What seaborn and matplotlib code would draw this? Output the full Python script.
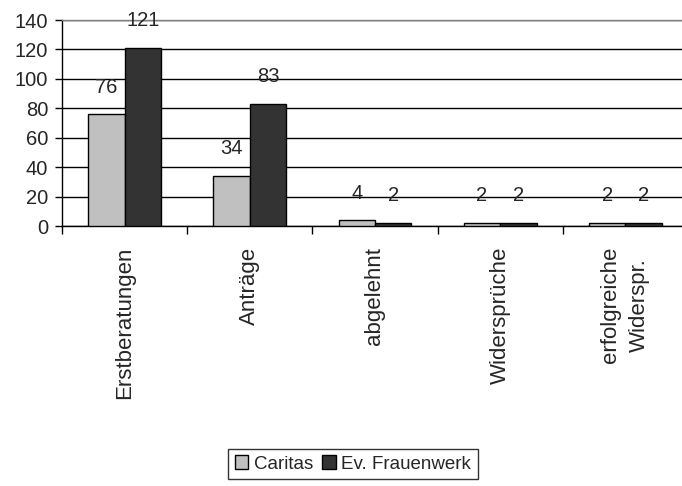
import matplotlib
matplotlib.use("Agg")
import matplotlib.pyplot as plt
import seaborn as sns
import pandas as pd
import numpy as np

categories = ["Erstberatungen", "Anträge", "abgelehnt", "Widersprüche", "erfolgreiche\nWiderspr."]
caritas = [76, 34, 4, 2, 2]
frauenwerk = [121, 83, 2, 2, 2]
series_names = ["Caritas", "Ev. Frauenwerk"]
yticks = [0, 20, 40, 60, 80, 100, 120, 140]

df = pd.DataFrame({
    "cat": categories * 2,
    "val": caritas + frauenwerk,
    "series": [series_names[0]] * len(categories) + [series_names[1]] * len(categories),
})

sns.set_theme(style="white")
plt.rcParams["font.family"] = ["Liberation Sans", "DejaVu Sans"]

FS = 14.5

fig = plt.figure(figsize=(6.82, 4.86), dpi=100)
ax = fig.add_axes([62 / 682, 1 - 226 / 486, 626 / 682, 206 / 486])

sns.barplot(data=df, x="cat", y="val", hue="series", order=categories,
            hue_order=series_names, palette=["#C0C0C0", "#333333"],
            width=0.58, edgecolor="black", linewidth=1.0, saturation=1,
            ax=ax, legend=True, zorder=3)

ax.set_ylim(0, 140)
ax.set_xlim(-0.5, len(categories) - 0.5)
ax.set_yticks(yticks)
ax.set_yticklabels([str(v) for v in yticks], fontsize=FS)
ax.yaxis.grid(True, color="black", linewidth=1.0, zorder=0)
ax.set_axisbelow(True)
ax.set_xlabel("")
ax.set_ylabel("")

ax.set_xticks(range(len(categories)))
ax.set_xticklabels(categories, rotation=90, fontsize=16, va="top", ha="center",
                   multialignment="center", linespacing=1.5)
ax.tick_params(axis="x", which="major", length=0, pad=15)
ax.set_xticks(np.arange(-0.5, len(categories) + 0.5, 1), minor=True)
ax.tick_params(axis="x", which="minor", length=6, width=1, color="black", direction="out", bottom=True)
ax.tick_params(axis="y", length=5, width=1, color="black", direction="out", left=True, pad=5)

ax.spines["right"].set_visible(False)
ax.spines["top"].set_color("#808080")
ax.spines["left"].set_color("black")
ax.spines["bottom"].set_color("black")
for s in ["left", "bottom", "top"]:
    ax.spines[s].set_linewidth(1.0)

for cont in ax.containers:
    for bar in cont:
        h = bar.get_height()
        ax.annotate(f"{int(h)}", (bar.get_x() + bar.get_width() / 2, h),
                    xytext=(0, 19.5), textcoords="offset points",
                    ha="center", va="center", fontsize=FS, annotation_clip=False)

leg = ax.legend(loc="center", bbox_to_anchor=(353 / 682, 1 - 464 / 486),
                bbox_transform=fig.transFigure, ncol=2, frameon=True,
                fontsize=FS - 1, handlelength=0.7, handleheight=0.7,
                handletextpad=0.3, columnspacing=0.5, borderpad=0.35,
                fancybox=False)
leg.get_frame().set_edgecolor("black")
leg.get_frame().set_linewidth(1.0)

fig.savefig("out.png", dpi=100)
